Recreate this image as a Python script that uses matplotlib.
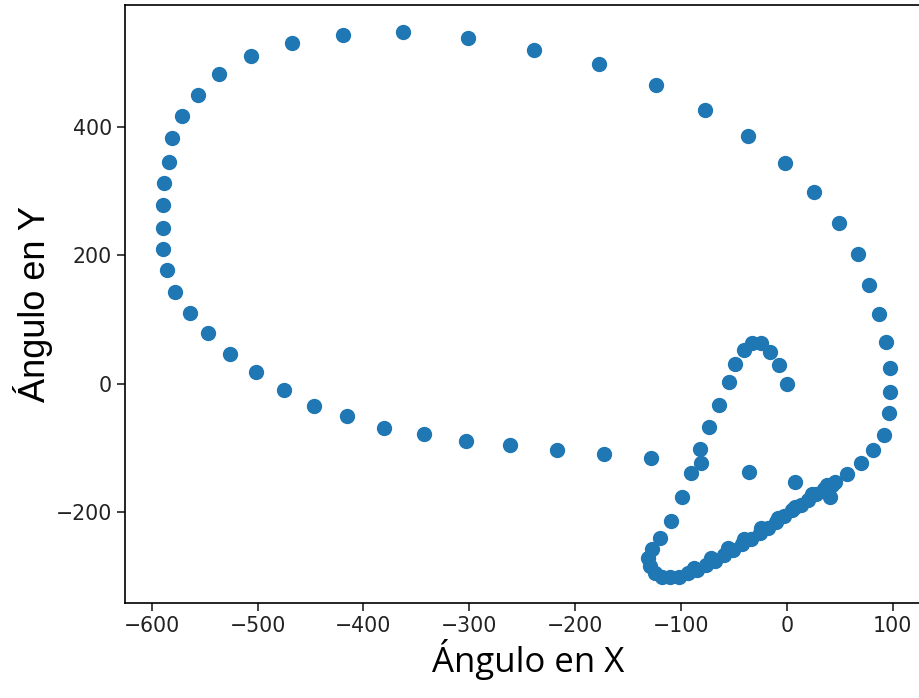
import matplotlib.pyplot as plt

# trayectoria: forma en "A" desde el origen, gancho inferior, diagonal y lazo exterior
angulo_x = [0.0, -7.8, -15.6, -24.6, -32.9, -40.9, -48.7, -54.7, -64.1, -73.9,
            -81.8, -80.9, -90.3, -99.3, -109.2, -119.6, -127.5, -130.7, -129.1, -124.3,
            -117.7, -110.2, -102.3,
            -93.1, -84.6, -76.1, -67.6, -59.1, -50.6, -42.1, -33.6, -25.1, -17.5,
            -9.9, -2.4, 5.2, 13.2, 20.3, 27.9, 35.5, 43.0,
            45.9, 56.9, 70.4, 81.5, 91.5, 96.9, 97.9, 97.9, 93.4, 87.2,
            78.0, 67.3, 49.0, 25.7, -1.7, -37.1, -77.7, -123.7, -177.3, -238.5,
            -301.5, -362.6, -419.1, -467.9, -506.4, -536.4, -556.5, -571.6, -581.1, -584.2,
            -588.7, -589.9, -589.9, -589.9, -585.5, -578.0, -564.1, -547.3, -526.0, -501.4,
            -475.5, -446.5, -415.9, -380.9, -342.7, -302.8, -261.3, -217.4, -172.9, -128.1,
            -35.3, 8.0, 40.7]
angulo_y = [0.0, 28.8, 48.7, 63.9, 63.0, 52.6, 30.5, 2.3, -33.0, -67.7,
            -101.4, -123.6, -138.7, -176.8, -213.4, -240.3, -256.9, -271.4, -284.1, -294.7,
            -300.0, -300.5, -300.0,
            -295.0, -289.6, -282.6, -275.6, -267.0, -258.5, -249.9, -241.4, -232.8, -224.5,
            -215.5, -206.0, -197.0, -188.5, -180.5, -172.0, -164.0, -157.0,
            -152.3, -140.7, -123.6, -103.0, -79.6, -45.9, -12.3, 25.0, 65.5, 108.6,
            153.7, 201.9, 249.6, 297.8, 342.9, 385.4, 425.8, 464.2, 496.9, 519.1,
            537.3, 547.6, 542.9, 529.5, 509.8, 481.8, 448.7, 416.0, 381.8, 345.4,
            312.8, 278.1, 241.8, 209.2, 177.0, 143.2, 110.6, 78.5, 45.9, 17.9,
            -9.6, -34.5, -50.1, -68.7, -78.4, -88.5, -95.6, -102.6, -108.9, -114.9,
            -136.7, -153.5, -176.0]

# segunda pasada sobre la diagonal (la banda se ve más gruesa)
retorno_x = [-88.0, -72.0, -56.0, -40.0, -24.0, -8.0, 8.0, 24.0, 38.0]
retorno_y = [-286.0, -271.0, -256.0, -241.0, -225.0, -209.0, -191.0, -172.0, -158.0]

x_ticks = [-600, -500, -400, -300, -200, -100, 0, 100]
y_ticks = [-200, 0, 200, 400]

fig = plt.figure(figsize=(9.2, 6.98), dpi=100)
ax = fig.add_axes([0.1363, 0.1361, 0.875, 0.8567])

ax.scatter(angulo_x + retorno_x, angulo_y + retorno_y, s=100, color='#1f77b4')

ax.set_xlim(-625, 135.7)
ax.set_ylim(-341, 589)
ax.set_xticks(x_ticks)
ax.set_yticks(y_ticks)
ax.tick_params(labelsize=14.8, length=6, width=1.2, colors='#222222')
for spine in ax.spines.values():
    spine.set_linewidth(1.2)

ax.set_xlabel('Ángulo en X', fontsize=25, family='Open Sans', labelpad=2)
ax.set_ylabel('Ángulo en Y', fontsize=26, family='Liberation Sans', labelpad=2)

fig.savefig('out.png', dpi=100)
